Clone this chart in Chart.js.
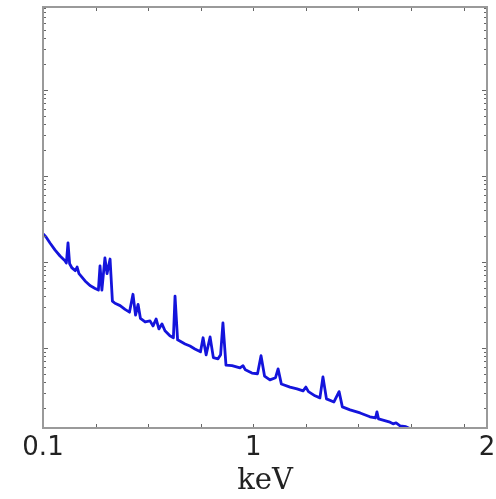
<!DOCTYPE html>
<html>
<head>
<meta charset="utf-8">
<script src="https://cdn.jsdelivr.net/npm/chart.js@4/dist/chart.umd.min.js"></script>
<style>
  html, body { margin: 0; padding: 0; background: #ffffff; }
  #wrap { width: 496px; height: 499px; position: relative; }
</style>
</head>
<body>
<div id="wrap"><canvas id="c" width="496" height="499"></canvas></div>
<script>
// Energy (keV) and flux (arbitrary units, log scale)
const energy = [0.100, 0.113, 0.130, 0.151, 0.173, 0.194, 0.200, 0.207, 0.214, 0.224,
  0.238, 0.246, 0.254, 0.280, 0.301, 0.323, 0.337, 0.344, 0.352, 0.365,
  0.374, 0.387, 0.397, 0.408, 0.430, 0.451, 0.470, 0.485, 0.496, 0.507,
  0.517, 0.537, 0.558, 0.571, 0.584, 0.596, 0.609, 0.622, 0.643, 0.658,
  0.665, 0.676, 0.708, 0.729, 0.750, 0.774, 0.785, 0.798, 0.815, 0.829,
  0.849, 0.860, 0.870, 0.883, 0.909, 0.943, 0.956, 0.966, 0.994, 1.018,
  1.033, 1.048, 1.071, 1.095, 1.106, 1.120, 1.157, 1.187, 1.213, 1.225,
  1.236, 1.264, 1.285, 1.298, 1.313, 1.345, 1.367, 1.381, 1.414, 1.457,
  1.499, 1.523, 1.529, 1.536, 1.581, 1.598, 1.611, 1.628, 1.653, 1.683, 1.705];
const flux = [21.2, 19.5, 16.6, 13.8, 11.7, 10.3, 9.7, 16.6, 9.5, 8.5,
  7.9, 8.7, 7.3, 6.0, 5.3, 4.9, 4.7, 9.0, 4.7, 11.1,
  7.3, 10.8, 3.5, 3.3, 3.1, 2.8, 2.6, 4.2, 2.4, 3.2,
  2.2, 2.0, 2.06, 1.80, 2.17, 1.66, 1.90, 1.58, 1.38, 1.31,
  4.0, 1.24, 1.11, 1.05, 0.97, 0.90, 1.31, 0.83, 1.34, 0.77,
  0.745, 0.83, 1.95, 0.63, 0.62, 0.585, 0.62, 0.555, 0.51, 0.50,
  0.81, 0.47, 0.425, 0.45, 0.57, 0.38, 0.35, 0.334, 0.316, 0.35,
  0.31, 0.277, 0.262, 0.46, 0.255, 0.235, 0.31, 0.206, 0.19, 0.175,
  0.158, 0.153, 0.18, 0.149, 0.138, 0.131, 0.134, 0.124, 0.121, 0.111, 0.105];

// Axis ranges and tick labels
const xRange = [0.1, 2];
const yRange = [0.117, 9200];
const xLabelTicks = [0.1, 1, 2];
const xLabelText = ['0.1', '1', '2'];
const xMinorTicks = [0.325, 0.55, 0.775, 1.0, 1.225, 1.45, 1.675, 1.9];
const yDecades = [-1, 0, 1, 2, 3, 4];
const xTitle = 'keV';

const points = energy.map((e, i) => ({ x: e, y: flux[i] }));

const framePlugin = {
  id: 'framePlugin',
  afterDraw(chart) {
    const { ctx, chartArea: a, scales } = chart;
    const xs = scales.x, ys = scales.y;
    ctx.save();
    // inward tick marks
    ctx.strokeStyle = '#666';
    ctx.lineWidth = 1;
    ctx.beginPath();
    xMinorTicks.forEach(v => {
      const px = Math.round(xs.getPixelForValue(v)) + 0.5;
      ctx.moveTo(px, a.bottom); ctx.lineTo(px, a.bottom - 4);
      ctx.moveTo(px, a.top); ctx.lineTo(px, a.top + 4);
    });
    yDecades.forEach(d => {
      for (let m = 1; m <= 9; m++) {
        const v = m * Math.pow(10, d);
        if (v < yRange[0] || v > yRange[1]) continue;
        const py = Math.round(ys.getPixelForValue(v)) + 0.5;
        const len = m === 1 ? 5 : 3;
        ctx.moveTo(a.left, py); ctx.lineTo(a.left + len, py);
        ctx.moveTo(a.right, py); ctx.lineTo(a.right - len, py);
      }
    });
    ctx.stroke();
    // frame
    ctx.strokeStyle = '#9a9a9a';
    ctx.lineWidth = 2;
    ctx.strokeRect(a.left, a.top, a.right - a.left, a.bottom - a.top);
    ctx.restore();
  }
};

new Chart(document.getElementById('c'), {
  type: 'line',
  data: {
    datasets: [{
      data: points,
      borderColor: '#1414dc',
      borderWidth: 2.8,
      pointRadius: 0,
      tension: 0,
      fill: false,
      borderJoinStyle: 'round',
      borderCapStyle: 'round'
    }]
  },
  options: {
    responsive: false,
    animation: false,
    devicePixelRatio: 1,
    layout: { padding: { top: 7, right: 9, left: 0, bottom: 0 } },
    plugins: { legend: { display: false }, tooltip: { enabled: false } },
    scales: {
      x: {
        type: 'linear',
        min: xRange[0], max: xRange[1],
        afterBuildTicks: s => { s.ticks = xLabelTicks.map(v => ({ value: v })); },
        afterFit: s => { s.height = 71; s.paddingLeft = 0; s.paddingRight = 0; },
        grid: { display: false, drawTicks: false },
        border: { display: false },
        ticks: {
          padding: 5,
          maxRotation: 0,
          autoSkip: false,
          color: '#222',
          font: { family: 'DejaVu Sans', size: 26 },
          callback: (v) => { const i = xLabelTicks.indexOf(v); return i >= 0 ? xLabelText[i] : ''; }
        },
        title: {
          display: true,
          text: xTitle,
          color: '#222',
          font: { family: 'DejaVu Serif', size: 29 },
          padding: { top: 0, bottom: 0 }
        }
      },
      y: {
        type: 'logarithmic',
        min: yRange[0], max: yRange[1],
        afterFit: s => { s.width = 43; s.paddingTop = 0; s.paddingBottom = 0; },
        grid: { display: false, drawTicks: false },
        border: { display: false },
        ticks: { display: false }
      }
    }
  },
  plugins: [framePlugin]
});
</script>
</body>
</html>
